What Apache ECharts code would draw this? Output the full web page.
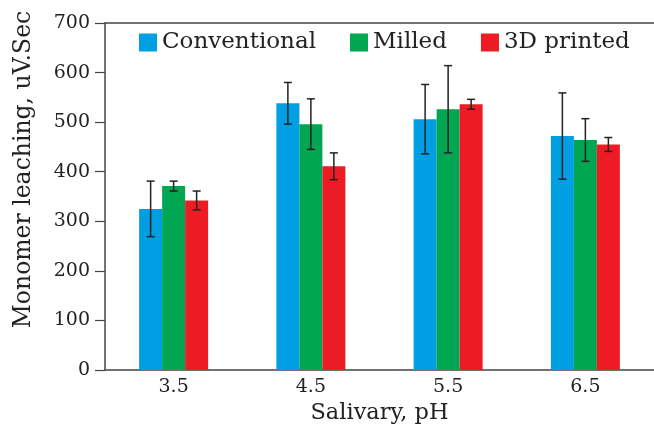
<!DOCTYPE html>
<html>
<head>
<meta charset="utf-8">
<script src="https://cdn.jsdelivr.net/npm/echarts@6/dist/echarts.min.js"></script>
<style>html,body{margin:0;padding:0;background:#fff}#c{width:654px;height:430px}</style>
</head>
<body>
<div id="c"></div>
<script>
const categories = ['3.5', '4.5', '5.5', '6.5'];
const seriesNames = ['Conventional', 'Milled', '3D printed'];
const conventional = [325, 538, 506, 472];
const conventionalErr = [56, 42, 70, 87];
const milled = [371, 496, 526, 464];
const milledErr = [10, 51, 88, 43];
const printed = [342, 411, 536, 455];
const printedErr = [19, 27, 10, 14];
const yTicks = [0, 100, 200, 300, 400, 500, 600, 700];

const colors = ['#009fe3', '#00a651', '#ed1c24'];
const FONT = 'DejaVu Serif';
const BAR_W = 23;

const values = [conventional, milled, printed];
const errs = [conventionalErr, milledErr, printedErr];

const chart = echarts.init(document.getElementById('c'));

function errSeries(idx) {
  const data = categories.map((c, i) => [i, values[idx][i], errs[idx][i]]);
  return {
    type: 'custom',
    xAxisIndex: 0,
    z: 10,
    silent: true,
    data: data,
    renderItem: function (params, api) {
      const xi = api.value(0), v = api.value(1), e = api.value(2);
      const hi = api.coord([xi, v + e]);
      const lo = api.coord([xi, v - e]);
      const x = hi[0] + (idx - 1) * BAR_W;
      const cap = 4;
      const st = { stroke: '#222', lineWidth: 1.5 };
      return {
        type: 'group',
        children: [
          { type: 'line', shape: { x1: x, y1: hi[1], x2: x, y2: lo[1] }, style: st },
          { type: 'line', shape: { x1: x - cap, y1: hi[1], x2: x + cap, y2: hi[1] }, style: st },
          { type: 'line', shape: { x1: x - cap, y1: lo[1], x2: x + cap, y2: lo[1] }, style: st }
        ]
      };
    }
  };
}

const option = {
  animation: false,
  textStyle: { fontFamily: FONT },
  grid: { left: 105, top: 23, width: 551, bottom: 60, containLabel: false },
  legend: {
    data: seriesNames,
    left: 134,
    top: 26,
    itemWidth: 18,
    itemHeight: 18,
    itemGap: 34,
    icon: 'rect',
    textStyle: { fontFamily: FONT, fontSize: 23, color: '#222' }
  },
  xAxis: [{
    type: 'category',
    data: categories,
    axisLine: { lineStyle: { color: '#444', width: 1.5 } },
    axisTick: { show: false },
    axisLabel: { fontFamily: FONT, fontSize: 19, color: '#222', margin: 8 },
    name: 'Salivary, pH',
    nameLocation: 'middle',
    nameGap: 27,
    nameTextStyle: { fontFamily: FONT, fontSize: 22.5, color: '#222' }
  }, {
    type: 'category',
    data: categories,
    position: 'top',
    axisLine: { show: true, lineStyle: { color: '#444', width: 1.5 } },
    axisTick: { show: false },
    axisLabel: { show: false }
  }],
  yAxis: {
    type: 'value',
    min: 0,
    max: 700,
    interval: 100,
    axisLine: { show: true, lineStyle: { color: '#444', width: 1.5 } },
    axisTick: { show: true, length: 10, lineStyle: { color: '#444', width: 1.2 } },
    splitLine: { show: false },
    axisLabel: {
      fontFamily: FONT, fontSize: 19, color: '#222', margin: 15,
      formatter: function (v) { return yTicks.indexOf(v) >= 0 ? String(v) : ''; }
    },
    name: 'Monomer leaching, uV.Sec',
    nameLocation: 'middle',
    nameGap: 69,
    nameTextStyle: { fontFamily: FONT, fontSize: 23.5, color: '#222', padding: [0, 0, 0, 54] }
  },
  series: [
    ...seriesNames.map((n, i) => ({
      name: n,
      type: 'bar',
      data: values[i],
      barWidth: BAR_W,
      barGap: '0%',
      itemStyle: { color: colors[i] }
    })),
    errSeries(0), errSeries(1), errSeries(2)
  ]
};
chart.setOption(option);
</script>
</body>
</html>
